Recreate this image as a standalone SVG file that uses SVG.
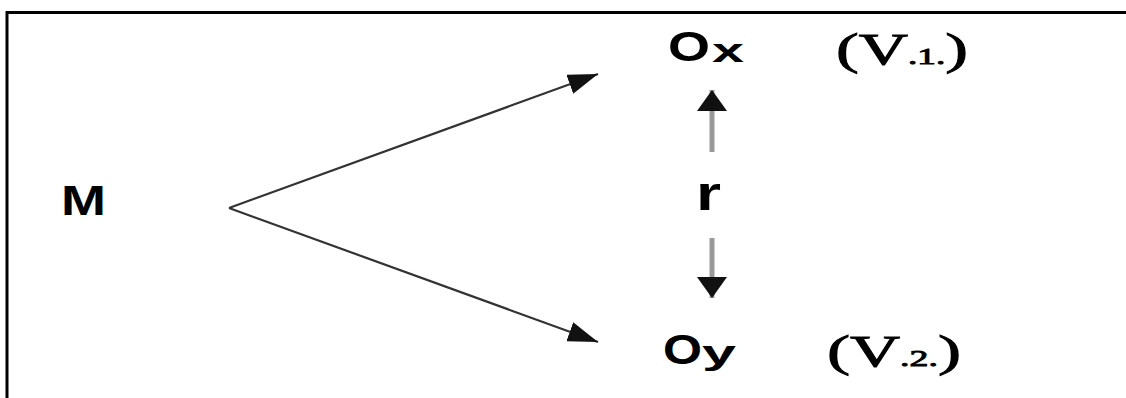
<svg xmlns="http://www.w3.org/2000/svg" width="1126" height="398" viewBox="0 0 1126 398">
  <style>
    .frame { fill: none; stroke: #000; stroke-width: 3; }
    .diag { fill: none; stroke: #333; stroke-width: 2.2; }
    .vert { fill: none; stroke: #999; stroke-width: 5; }
    .sans { font-family: "Liberation Sans", Arial, sans-serif; font-weight: bold; fill: #000; }
    .serif { font-family: "Liberation Serif", "Times New Roman", serif; font-weight: normal; fill: #000; stroke: #000; stroke-width: 0.9; }
  </style>
  <defs>
    <marker id="headD" markerUnits="userSpaceOnUse" markerWidth="32" markerHeight="22" refX="30" refY="10" orient="auto">
      <path d="M0,0 L30,10 L0,20 z" fill="#111"/>
    </marker>
    <marker id="headV" markerUnits="userSpaceOnUse" markerWidth="24" markerHeight="32" refX="21" refY="15" orient="auto">
      <path d="M0,0 L21,15 L0,30 z" fill="#111"/>
    </marker>
  </defs>
  <rect width="1126" height="398" fill="#fff"/>
  <path class="frame" d="M7,398 L7,12.5 L1126,12.5"/>

  <g id="connectors">
    <line class="diag" x1="229" y1="208" x2="598" y2="74" marker-end="url(#headD)"/>
    <line class="diag" x1="229" y1="208" x2="598" y2="342" marker-end="url(#headD)"/>
    <line class="vert" x1="712" y1="152" x2="712" y2="90" marker-end="url(#headV)"/>
    <line class="vert" x1="712" y1="238" x2="712" y2="298" marker-end="url(#headV)"/>
  </g>

  <g id="node-M">
    <text class="sans" x="61" y="215" font-size="42" textLength="45" lengthAdjust="spacingAndGlyphs">M</text>
  </g>
  <g id="node-Ox">
    <text class="sans" x="668" y="61" font-size="43" textLength="42" lengthAdjust="spacingAndGlyphs">O</text>
    <text class="sans" x="712" y="62" font-size="34" textLength="32" lengthAdjust="spacingAndGlyphs">x</text>
    <text class="serif" x="836" y="64" font-size="44" textLength="132" lengthAdjust="spacingAndGlyphs">(V<tspan font-size="24">.1.</tspan>)</text>
  </g>
  <g id="node-r">
    <text class="sans" x="696" y="210" font-size="48" textLength="25" lengthAdjust="spacingAndGlyphs">r</text>
  </g>
  <g id="node-Oy">
    <text class="sans" x="663" y="364" font-size="43" textLength="39" lengthAdjust="spacingAndGlyphs">O</text>
    <text class="sans" x="702" y="364" font-size="34" textLength="34" lengthAdjust="spacingAndGlyphs">y</text>
    <text class="serif" x="827" y="366" font-size="44" textLength="134" lengthAdjust="spacingAndGlyphs">(V<tspan font-size="24">.2.</tspan>)</text>
  </g>
</svg>
